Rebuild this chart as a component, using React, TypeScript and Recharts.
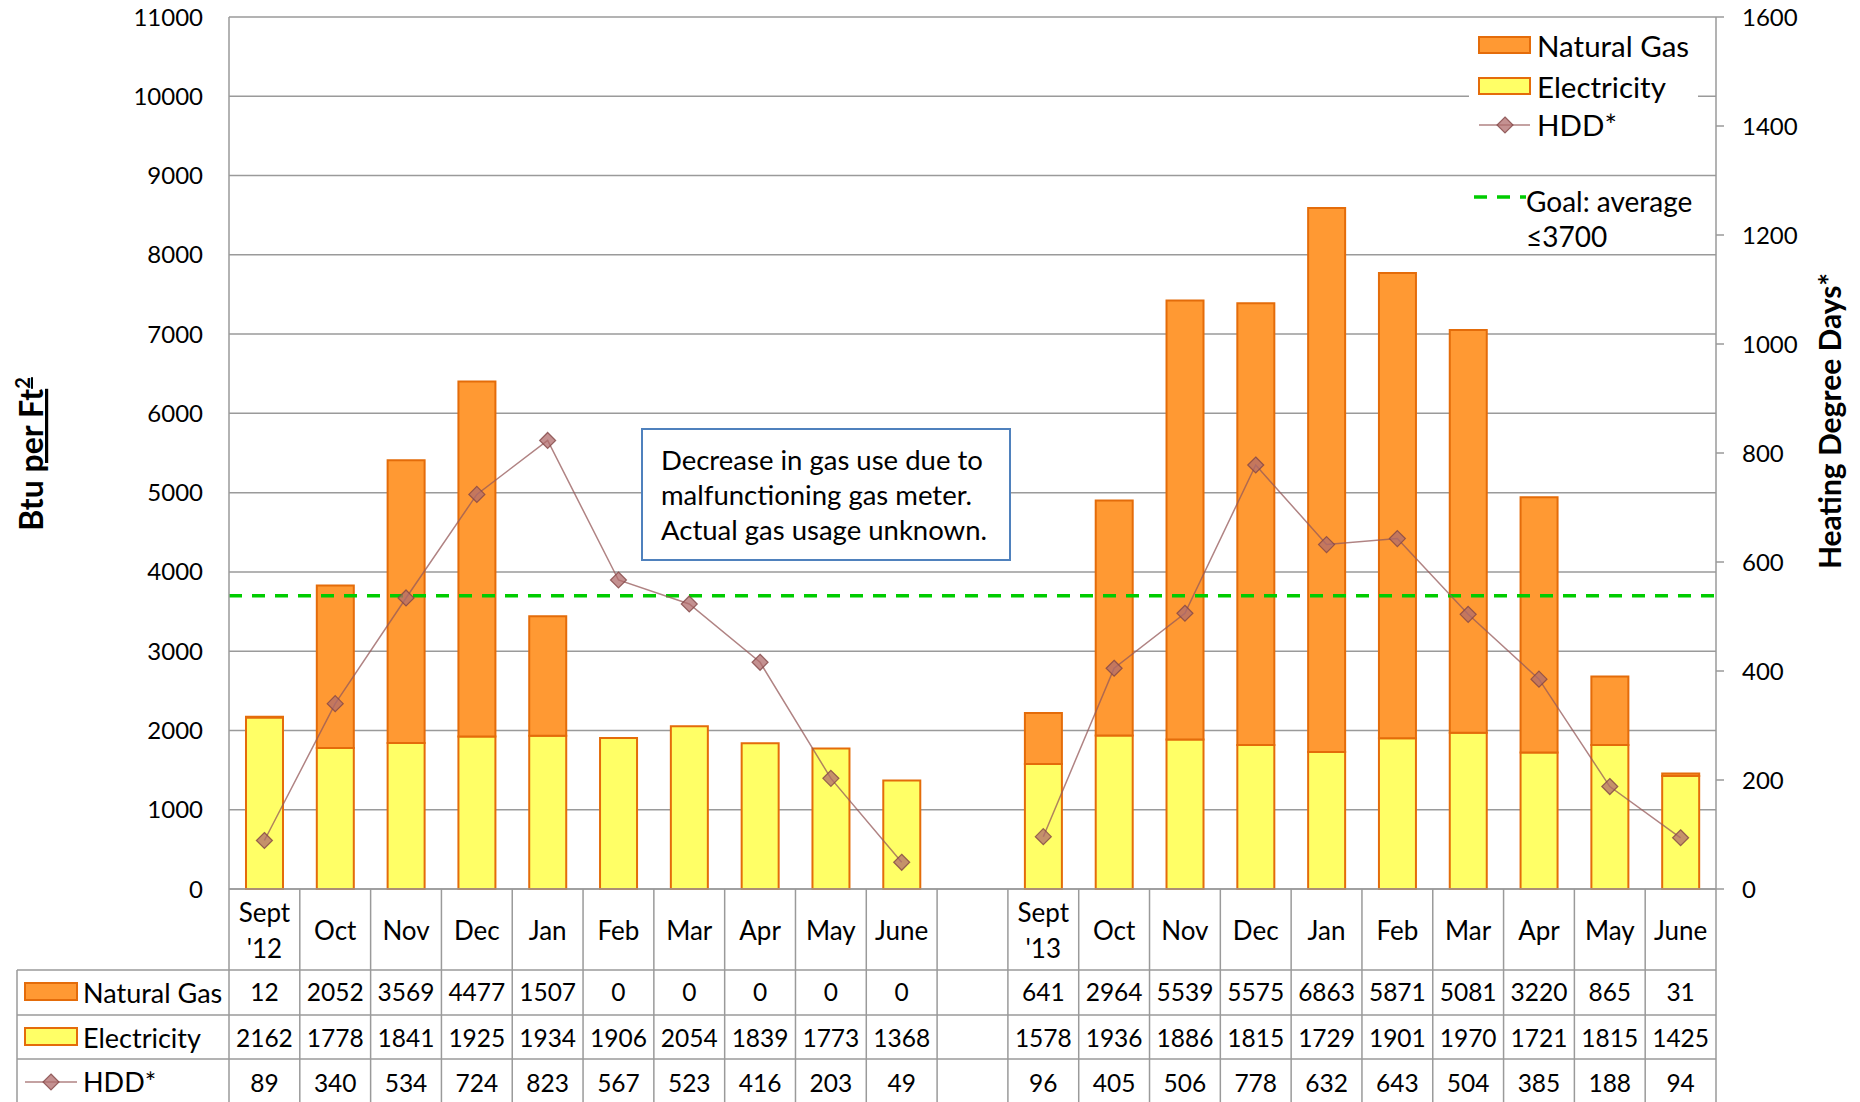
import { Bar, CartesianGrid, ComposedChart, Line, ReferenceLine, XAxis, YAxis } from "recharts";

const months = [
  "Sept\n'12", "Oct", "Nov", "Dec", "Jan", "Feb", "Mar", "Apr", "May", "June",
  "",
  "Sept\n'13", "Oct", "Nov", "Dec", "Jan", "Feb", "Mar", "Apr", "May", "June",
];
const naturalGas = [12, 2052, 3569, 4477, 1507, 0, 0, 0, 0, 0, null, 641, 2964, 5539, 5575, 6863, 5871, 5081, 3220, 865, 31];
const electricity = [2162, 1778, 1841, 1925, 1934, 1906, 2054, 1839, 1773, 1368, null, 1578, 1936, 1886, 1815, 1729, 1901, 1970, 1721, 1815, 1425];
const hdd = [89, 340, 534, 724, 823, 567, 523, 416, 203, 49, null, 96, 405, 506, 778, 632, 643, 504, 385, 188, 94];
const btuTicks = [0, 1000, 2000, 3000, 4000, 5000, 6000, 7000, 8000, 9000, 10000, 11000];
const hddTicks = [0, 200, 400, 600, 800, 1000, 1200, 1400, 1600];
const goal = 3700;

const data = months.map((label, i) => ({
  key: `m${i}`,
  label,
  gas: naturalGas[i],
  elec: electricity[i],
  hdd: hdd[i],
}));

const W = 1860;
const H = 1102;
const LEFT = 229;
const RIGHT_W = 144;
const TOP = 17;
const BOTTOM_Y = 889;
const SLOT = (W - LEFT - RIGHT_W) / months.length;

const FONT = "Lato, 'Open Sans', sans-serif";
const GRID = "#9a9a9a";
const GAS = "#FF9933";
const ELEC = "#FFFF66";
const EDGE = "#E46C0A";
const HDD_LINE = "rgba(150, 90, 90, 0.75)";
const HDD_FILL = "rgba(176, 108, 108, 0.75)";
const HDD_EDGE = "rgba(130, 70, 70, 0.8)";
const GREEN = "#00CC00";

function Diamond({ cx, cy, r = 8 }: { cx: number; cy: number; r?: number }) {
  return (
    <path
      d={`M${cx},${cy - r} L${cx + r},${cy} L${cx},${cy + r} L${cx - r},${cy} Z`}
      fill={HDD_FILL}
      stroke={HDD_EDGE}
      strokeWidth={1.2}
    />
  );
}

function HddDot(props: any) {
  const { cx, cy, payload } = props;
  if (payload == null || payload.hdd == null || cx == null || cy == null) return <g />;
  return <Diamond cx={cx} cy={cy} />;
}

function TableColumn(props: any) {
  const { x, y, payload } = props;
  const i = props.index ?? payload.index;
  const row = data[i];
  const half = SLOT / 2;
  const lines = row.label.split("\n");
  const cells = [row.gas, row.elec, row.hdd];
  const rowY = [102, 148, 193];
  return (
    <g>
      {i === 0 && <line x1={x - half} x2={x - half} y1={y} y2={H} stroke={GRID} strokeWidth={1.5} />}
      <line x1={x + half} x2={x + half} y1={y} y2={H} stroke={GRID} strokeWidth={1.5} />
      {lines.map((t: string, k: number) => (
        <text
          key={k}
          x={x}
          y={y + (lines.length === 1 ? 41 : 23 + k * 36)}
          textAnchor="middle"
          dominantBaseline="central"
          fontFamily={FONT}
          fontSize={26}
          fill="#000"
        >
          {t}
        </text>
      ))}
      {cells.map((v, k) =>
        v == null ? null : (
          <text
            key={`c${k}`}
            x={x}
            y={y + rowY[k]}
            textAnchor="middle"
            dominantBaseline="central"
            fontFamily={FONT}
            fontSize={24.5}
            fill="#000"
          >
            {v}
          </text>
        )
      )}
    </g>
  );
}

function Overlay() {
  const txt = { fontFamily: FONT, fill: "#000" };
  return (
    <svg width={W} height={H} style={{ position: "absolute", left: 0, top: 0, pointerEvents: "none" }}>
      {/* data table key column */}
      <line x1={17} x2={17} y1={970} y2={H} stroke={GRID} strokeWidth={1.5} />
      {[970, 1015, 1059].map((ly) => (
        <line key={ly} x1={17} x2={W - RIGHT_W} y1={ly} y2={ly} stroke={GRID} strokeWidth={1.5} />
      ))}
      <rect x={25} y={983} width={52} height={17} fill={GAS} stroke={EDGE} strokeWidth={2} />
      <text x={83} y={992} dominantBaseline="central" fontSize={27} {...txt}>Natural Gas</text>
      <rect x={25} y={1028} width={52} height={17} fill={ELEC} stroke={EDGE} strokeWidth={2} />
      <text x={83} y={1037} dominantBaseline="central" fontSize={27} {...txt}>Electricity</text>
      <line x1={25} x2={77} y1={1082} y2={1082} stroke={HDD_LINE} strokeWidth={1.5} />
      <Diamond cx={51} cy={1082} />
      <text x={83} y={1081} dominantBaseline="central" fontSize={27} {...txt}>HDD*</text>

      {/* legend */}
      <rect x={1469} y={26} width={229} height={140} fill="#fff" />
      <rect x={1479} y={37} width={51} height={16} fill={GAS} stroke={EDGE} strokeWidth={2} />
      <text x={1537} y={45} dominantBaseline="central" fontSize={29.5} {...txt}>Natural Gas</text>
      <rect x={1479} y={78} width={51} height={16} fill={ELEC} stroke={EDGE} strokeWidth={2} />
      <text x={1537} y={86} dominantBaseline="central" fontSize={29.5} {...txt}>Electricity</text>
      <line x1={1479} x2={1530} y1={125} y2={125} stroke={HDD_LINE} strokeWidth={1.5} />
      <Diamond cx={1505} cy={125} />
      <text x={1537} y={124} dominantBaseline="central" fontSize={29.5} {...txt}>HDD*</text>

      <rect x={1469} y={182} width={229} height={68} fill="#fff" />
      <line x1={1474} x2={1526} y1={197} y2={197} stroke={GREEN} strokeWidth={3.5} strokeDasharray="13 10" />
      <text x={1526} y={201} dominantBaseline="central" fontSize={28} {...txt}>Goal: average</text>
      <text x={1526} y={236} dominantBaseline="central" fontSize={28} {...txt}>≤3700</text>

      {/* note */}
      <rect x={642} y={429} width={368} height={131} fill="#fff" stroke="#4F81BD" strokeWidth={2} />
      <text x={661} y={459} dominantBaseline="central" fontSize={27.5} {...txt}>Decrease in gas use due to</text>
      <text x={661} y={494} dominantBaseline="central" fontSize={27.5} {...txt}>malfunctioning gas meter.</text>
      <text x={661} y={529} dominantBaseline="central" fontSize={27.5} {...txt}>Actual gas usage unknown.</text>

      {/* axis titles */}
      <text
        transform="translate(43,454) rotate(-90)"
        textAnchor="middle"
        fontSize={32}
        fontWeight="bold"
        {...txt}
      >
        Btu <tspan textDecoration="underline">per Ft</tspan>
        <tspan fontSize={20} dy={-13} textDecoration="underline">2</tspan>
      </text>
      <text
        transform="translate(1841,421) rotate(-90)"
        textAnchor="middle"
        fontSize={30}
        fontWeight="bold"
        {...txt}
      >
        Heating Degree Days*
      </text>
    </svg>
  );
}

export default function App() {
  return (
    <div style={{ position: "absolute", left: 0, top: 0, width: W, height: H, background: "#fff" }}>
      <ComposedChart
        width={W}
        height={H}
        data={data}
        margin={{ top: TOP, right: 0, bottom: 0, left: 0 }}
        barCategoryGap="24%"
      >
        <CartesianGrid vertical={false} stroke={GRID} strokeWidth={1.5} yAxisId="btu" />
        <XAxis
          dataKey="key"
          height={H - BOTTOM_Y}
          interval={0}
          tickLine={false}
          tickSize={0}
          tickMargin={0}
          axisLine={{ stroke: GRID, strokeWidth: 1.5 }}
          tick={<TableColumn />}
        />
        <YAxis
          yAxisId="btu"
          width={LEFT}
          domain={[0, 11000]}
          ticks={btuTicks}
          interval={0}
          tickLine={false}
          tickSize={0}
          tickMargin={26}
          axisLine={{ stroke: GRID, strokeWidth: 1.5 }}
          tick={{ fontFamily: FONT, fontSize: 24, fill: "#000" }}
        />
        <YAxis
          yAxisId="hdd"
          orientation="right"
          width={RIGHT_W}
          domain={[0, 1600]}
          ticks={hddTicks}
          interval={0}
          tickSize={8}
          tickMargin={18}
          tickLine={{ stroke: GRID, strokeWidth: 1.5 }}
          axisLine={{ stroke: GRID, strokeWidth: 1.5 }}
          tick={{ fontFamily: FONT, fontSize: 24, fill: "#000", textAnchor: "start" }}
        />
        <Bar yAxisId="btu" dataKey="elec" stackId="a" fill={ELEC} stroke={EDGE} strokeWidth={2} isAnimationActive={false} />
        <Bar yAxisId="btu" dataKey="gas" stackId="a" fill={GAS} stroke={EDGE} strokeWidth={2} isAnimationActive={false} />
        <ReferenceLine yAxisId="btu" y={goal} stroke={GREEN} strokeWidth={3.5} strokeDasharray="13 10" />
        <Line
          yAxisId="hdd"
          dataKey="hdd"
          stroke={HDD_LINE}
          strokeWidth={1.5}
          dot={<HddDot />}
          activeDot={false}
          connectNulls={false}
          isAnimationActive={false}
        />
      </ComposedChart>
      <Overlay />
    </div>
  );
}
